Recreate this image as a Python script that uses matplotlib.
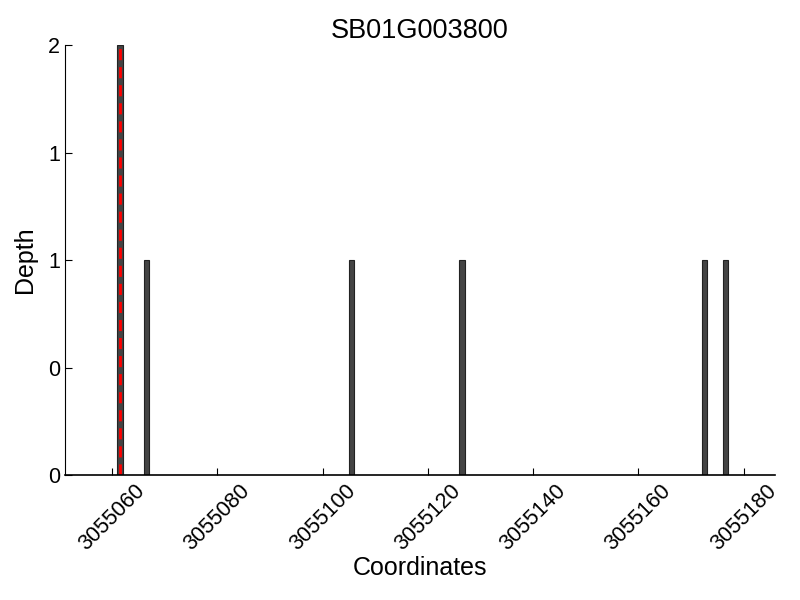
import matplotlib
matplotlib.use("Agg")
import matplotlib.pyplot as plt
from matplotlib.ticker import FormatStrFormatter

plt.rcParams["font.family"] = ["Liberation Sans", "DejaVu Sans"]

# read-depth bars (left edge coordinate, depth)
positions = [3055061, 3055066, 3055105, 3055126, 3055172, 3055176]
depths = [2, 1, 1, 1, 1, 1]
marker_pos = 3055061.5
gene = "SB01G003800"
xticks = [3055060, 3055080, 3055100, 3055120, 3055140, 3055160, 3055180]

fig = plt.figure(figsize=(8, 6), dpi=100)
ax = fig.add_axes([0.081, 0.208, 0.888, 0.717])
ax.bar(positions, depths, width=1.0, align="edge", color="#444444",
       edgecolor="#222222", linewidth=0.8)
ax.axvline(marker_pos, color="red", ls="--", lw=2, dashes=(4, 2.5))

ax.set_xlim(3055051, 3055186)
ax.set_ylim(0, 2)
ax.set_xticks(xticks)
ax.set_xticklabels([str(t) for t in xticks], rotation=45, ha="center")
ax.set_yticks([0, 0.5, 1, 1.5, 2])
ax.yaxis.set_major_formatter(FormatStrFormatter("%d"))
ax.tick_params(direction="in", labelsize=15.5, length=5, width=0.8)

for s in ("top", "right"):
    ax.spines[s].set_visible(False)
ax.spines["left"].set_linewidth(0.8)
ax.spines["bottom"].set_linewidth(1.2)

ax.set_title(gene, fontsize=19.5, pad=5)
ax.set_xlabel("Coordinates", fontsize=18, labelpad=1)
ax.set_ylabel("Depth", fontsize=18, labelpad=8)

fig.savefig("out.png", dpi=100)
